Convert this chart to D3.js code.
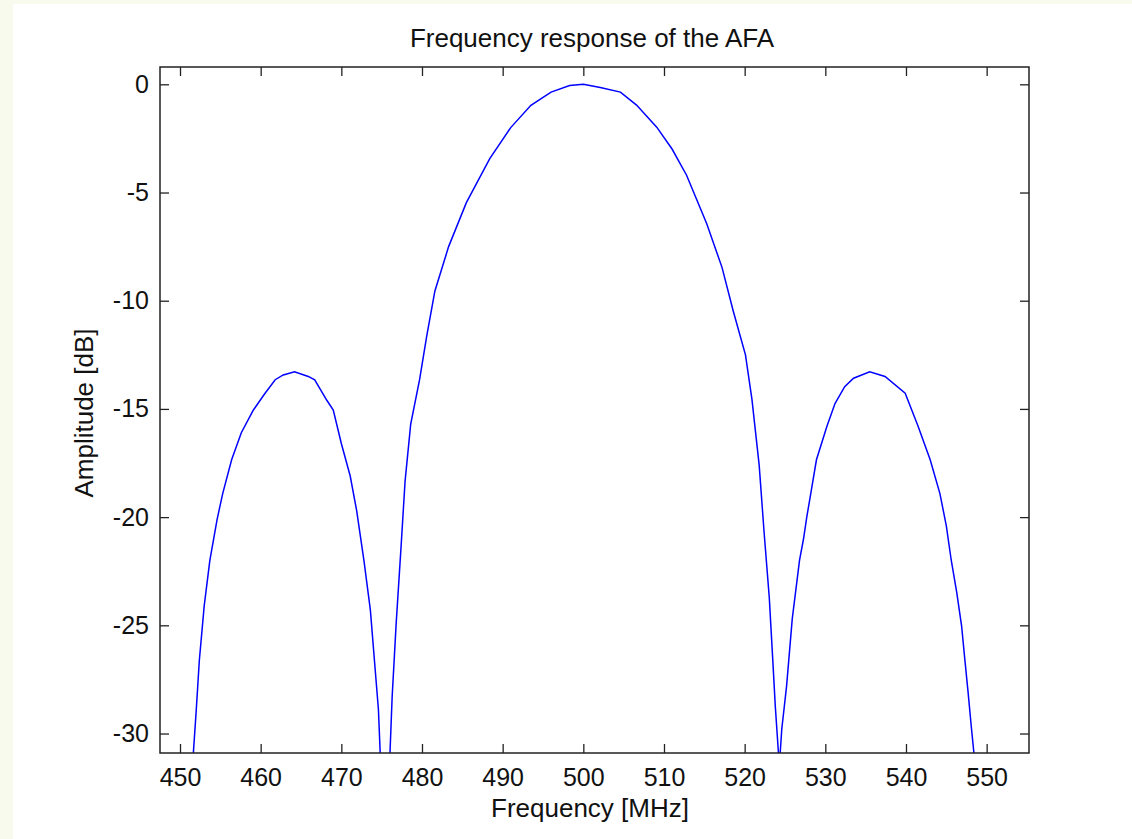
<!DOCTYPE html>
<html>
<head>
<meta charset="utf-8">
<script src="https://cdn.jsdelivr.net/npm/d3@7"></script>
<style>
  body { margin: 0; background: #f8faed; }
  svg text { font-family: "Liberation Sans", Arial, sans-serif; fill: #111; }
</style>
</head>
<body>
<script>
// frequency response (MHz / dB)
var freq = [451.6, 452.0, 452.4, 453.0, 453.7, 454.6, 455.3, 456.4, 457.6, 459.1,
  460.5, 461.8, 462.8, 464.2, 465.9, 466.7, 468.2, 469.0, 470.0, 471.1,
  471.9, 472.8, 473.6, 474.1, 474.6, 474.85, 475.4, 476.0, 476.3, 476.8,
  477.4, 477.9, 478.6, 479.7, 480.6, 481.6, 483.3, 485.5, 488.4, 491.0,
  493.5, 496.0, 498.3, 500.0, 502.1, 504.6, 506.6, 509.1, 511.0, 512.8,
  515.3, 517.2, 518.6, 520.1, 520.9, 521.8, 522.4, 523.05, 523.5, 523.8,
  524.3, 524.6, 525.2, 525.9, 526.8, 527.3, 527.7, 528.2, 528.9, 530.2,
  531.2, 532.4, 533.5, 535.5, 537.4, 539.9, 541.5, 543.0, 544.2, 545.0,
  545.6, 546.3, 546.9, 547.3, 547.7, 548.1, 548.5];
var amp = [-31.2, -29.0, -26.6, -24.1, -22.0, -20.1, -18.9, -17.35, -16.1, -15.05,
  -14.3, -13.65, -13.43, -13.28, -13.5, -13.66, -14.6, -15.05, -16.6, -18.1,
  -19.7, -22.0, -24.3, -26.6, -28.9, -31.2, -45, -31.2, -28.3, -24.9,
  -21.4, -18.35, -15.7, -13.65, -11.6, -9.55, -7.5, -5.47, -3.43, -2.0,
  -0.97, -0.36, -0.06, 0, -0.15, -0.36, -0.96, -1.98, -2.99, -4.2,
  -6.44, -8.47, -10.5, -12.5, -14.55, -17.6, -20.65, -23.7, -26.7, -28.75,
  -31.5, -29.8, -27.8, -24.7, -22.0, -21.0, -20.0, -18.9, -17.35, -15.8,
  -14.75, -13.97, -13.58, -13.28, -13.5, -14.27, -15.8, -17.35, -18.9, -20.4,
  -21.97, -23.5, -25.05, -26.6, -28.1, -29.7, -31.2];

var xTicks = [450, 460, 470, 480, 490, 500, 510, 520, 530, 540, 550];
var yTicks = [0, -5, -10, -15, -20, -25, -30];

var W = 1132, H = 839;
var box = {left: 160, top: 67, right: 1029, bottom: 753};

var svg = d3.select("body").append("svg")
  .attr("width", W).attr("height", H)
  .style("display", "block");

// white figure area
svg.append("rect").attr("x", 13).attr("y", 4).attr("width", W - 13).attr("height", H - 4)
  .attr("fill", "#ffffff");

var x = d3.scaleLinear().domain([447.52, 555.25]).range([box.left, box.right]);
var y = d3.scaleLinear().domain([-30.9, 0.8]).range([box.bottom, box.top]);

svg.append("clipPath").attr("id", "clip")
  .append("rect")
  .attr("x", box.left).attr("y", box.top)
  .attr("width", box.right - box.left).attr("height", box.bottom - box.top);

var pts = freq.map(function(f, i){ return [f, amp[i]]; });

var line = d3.line()
  .x(function(d){ return x(d[0]); })
  .y(function(d){ return y(d[1]); });

svg.append("path")
  .datum(pts)
  .attr("clip-path", "url(#clip)")
  .attr("fill", "none")
  .attr("stroke", "#0000ff")
  .attr("stroke-width", 1.5)
  .attr("d", line);

var tk = 9;
var plain = function(d){ return String(d); };  // keep ascii hyphen like matlab

function styleAxis(g){
  g.select(".domain").remove();
  g.selectAll(".tick line").attr("stroke", "#222").attr("stroke-width", 1.3);
  g.selectAll(".tick text").attr("font-size", 25).attr("fill", "#111");
}

svg.append("g").attr("transform", "translate(0," + box.bottom + ")")
  .call(d3.axisBottom(x).tickValues(xTicks).tickFormat(plain).tickSizeInner(-tk).tickSizeOuter(0).tickPadding(15))
  .call(styleAxis);
svg.append("g").attr("transform", "translate(0," + box.top + ")")
  .call(d3.axisTop(x).tickValues(xTicks).tickSizeInner(-tk).tickSizeOuter(0).tickFormat(""))
  .call(styleAxis);
svg.append("g").attr("transform", "translate(" + box.left + ",0)")
  .call(d3.axisLeft(y).tickValues(yTicks).tickFormat(plain).tickSizeInner(-tk).tickSizeOuter(0).tickPadding(11))
  .call(styleAxis);
svg.append("g").attr("transform", "translate(" + box.right + ",0)")
  .call(d3.axisRight(y).tickValues(yTicks).tickSizeInner(-tk).tickSizeOuter(0).tickFormat(""))
  .call(styleAxis);

svg.selectAll("g text").attr("font-family", "'Liberation Sans', Arial, sans-serif");

// axes box
svg.append("rect")
  .attr("x", box.left).attr("y", box.top)
  .attr("width", box.right - box.left).attr("height", box.bottom - box.top)
  .attr("fill", "none").attr("stroke", "#222").attr("stroke-width", 1.5);

svg.append("text")
  .attr("x", 592).attr("y", 47)
  .attr("text-anchor", "middle").attr("font-size", 26)
  .text("Frequency response of the AFA");

svg.append("text")
  .attr("x", 590).attr("y", 817)
  .attr("text-anchor", "middle").attr("font-size", 26)
  .text("Frequency [MHz]");

svg.append("text")
  .attr("transform", "translate(93,413) rotate(-90)")
  .attr("text-anchor", "middle").attr("font-size", 26)
  .text("Amplitude [dB]");
</script>
</body>
</html>
